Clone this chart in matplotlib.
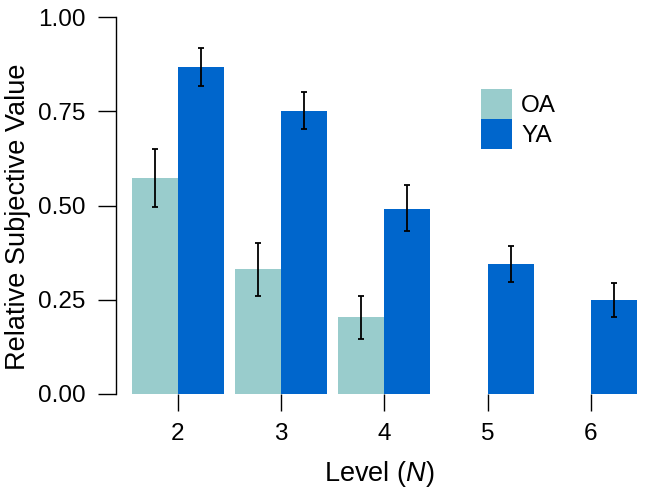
import numpy as np
import matplotlib.pyplot as plt

plt.rcParams['font.family'] = ['Liberation Sans', 'DejaVu Sans']
plt.rcParams['mathtext.fontset'] = 'custom'
plt.rcParams['mathtext.it'] = 'Liberation Sans:italic'
plt.rcParams['mathtext.rm'] = 'Liberation Sans'

# valeurs
levels = [2, 3, 4, 5, 6]
oa_levels = [2, 3, 4]
oa_vals = [0.574, 0.331, 0.203]
oa_lo = [0.497, 0.260, 0.145]
oa_hi = [0.651, 0.401, 0.261]
ya_vals = [0.867, 0.751, 0.492, 0.344, 0.249]
ya_lo = [0.816, 0.702, 0.432, 0.296, 0.204]
ya_hi = [0.919, 0.802, 0.554, 0.392, 0.295]
yticks = [0.0, 0.25, 0.5, 0.75, 1.0]

c_oa = '#99CCCC'
c_ya = '#0066CC'
w = 0.4455
fs = 17.5
fs_lab = 19.5

W, H = 645, 501
fig = plt.figure(figsize=(W / 100, H / 100), dpi=100)
ax = fig.add_axes([116 / W, (H - 394) / H, (642.6 - 116) / W, 377 / H])

oa_x = np.array(oa_levels) - w / 2
ya_x = np.array(levels) + w / 2
ax.bar(oa_x, oa_vals, width=w, color=c_oa, label='OA')
ax.bar(ya_x, ya_vals, width=w, color=c_ya, label='YA')

oa_err = [np.array(oa_vals) - np.array(oa_lo), np.array(oa_hi) - np.array(oa_vals)]
ya_err = [np.array(ya_vals) - np.array(ya_lo), np.array(ya_hi) - np.array(ya_vals)]
ax.errorbar(oa_x, oa_vals, yerr=oa_err, fmt='none', ecolor='black', elinewidth=1.3, capsize=2.5, capthick=1.3)
ax.errorbar(ya_x, ya_vals, yerr=ya_err, fmt='none', ecolor='black', elinewidth=1.3, capsize=2.5, capthick=1.3)

ax.set_xlim(1.3995, 6.5)
ax.set_ylim(0, 1)
ax.set_xticks(levels)
ax.set_yticks(yticks)
ax.set_yticklabels(['%.2f' % t for t in yticks])
for s in ['top', 'right', 'bottom']:
    ax.spines[s].set_visible(False)
ax.spines['left'].set_linewidth(1.0)
ax.tick_params(axis='y', direction='out', length=13, width=1.0, pad=9, labelsize=fs)
ax.tick_params(axis='x', direction='out', length=12, width=1.0, pad=9, labelsize=fs)

ax.set_xlabel('Level ($\\mathit{N}$)', fontsize=fs_lab)
ax.set_ylabel('Relative Subjective Value', fontsize=fs_lab)
ax.xaxis.set_label_coords(0.5, -(474 - 394) / 377, transform=ax.transAxes)
ax.yaxis.set_label_coords(-(116 - 18) / 526.6, 0.47, transform=ax.transAxes)
ax.xaxis.label.set_va('center')
ax.yaxis.label.set_va('center')

ax.legend(frameon=False, loc='upper left', bbox_to_anchor=(481 / W, (H - 89) / H),
          bbox_transform=fig.transFigure, fontsize=fs, handlelength=1.275, handleheight=1.52,
          labelspacing=0, handletextpad=0.37, borderpad=0, borderaxespad=0)

plt.savefig('out.png', dpi=100)
